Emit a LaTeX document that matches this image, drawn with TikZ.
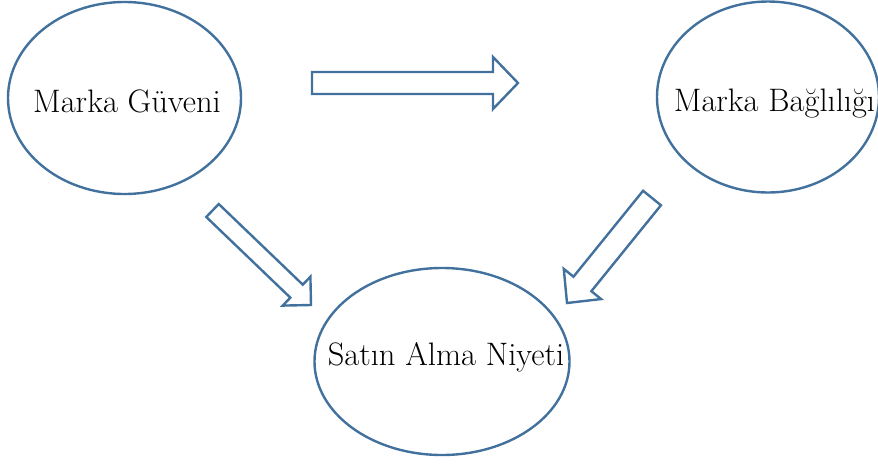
\documentclass[tikz,border=0pt]{standalone}
\usepackage{fontspec}
\usetikzlibrary{shapes.geometric,calc}
\definecolor{ol}{RGB}{65,113,156}
\tikzset{
  oval/.style={ellipse, draw=ol, line width=2.4pt, inner sep=0pt},
  lbl/.style={inner sep=0pt, font=\fontsize{32.5}{38}\selectfont, text=black},
  arr/.style={draw=ol, line width=2.4pt, line join=miter, fill=white}
}
\newcommand\blockarr[5]{% tail, tip, half shaft, half head, head length
  \coordinate (ba-h) at ($(#2)!#5!(#1)$);
  \draw[arr] ($(#1)!#3!90:(#2)$) -- ($(ba-h)!#3!-90:(#1)$) -- ($(ba-h)!#4!-90:(#1)$) -- (#2)
    -- ($(ba-h)!#4!90:(#1)$) -- ($(ba-h)!#3!90:(#1)$) -- ($(#1)!#3!-90:(#2)$) -- cycle;}
\begin{document}
\begin{tikzpicture}[x=1pt,y=-1pt]
\useasboundingbox (0,0) rectangle (878,464);
\clip (0,0) rectangle (878,464);
\node[oval, minimum width=233pt, minimum height=192pt] (mg) at (124.5,98) {};
\node[lbl, anchor=base] (mgt) at (127,112) {Marka Güveni};
\node[oval, minimum width=222pt, minimum height=191pt] (mb) at (768,97) {};
\node[lbl, anchor=base] (mbt) at (774.5,111) {Marka Bağlılığı};
\node[oval, minimum width=255pt, minimum height=187pt] (sa) at (442,361.5) {};
\node[lbl, anchor=base] (sat) at (446,365) {Satın Alma Niyeti};
\coordinate (h1) at (312,83);
\coordinate (h2) at (518,83);
\blockarr{h1}{h2}{11pt}{26pt}{25pt}
\coordinate (l1) at (212.5,210.5);
\coordinate (l2) at (311,305);
\blockarr{l1}{l2}{9pt}{20pt}{20pt}
\coordinate (r1) at (652,198);
\coordinate (r2) at (567,303);
\blockarr{r1}{r2}{11.5pt}{24pt}{24.5pt}
\end{tikzpicture}
\end{document}
